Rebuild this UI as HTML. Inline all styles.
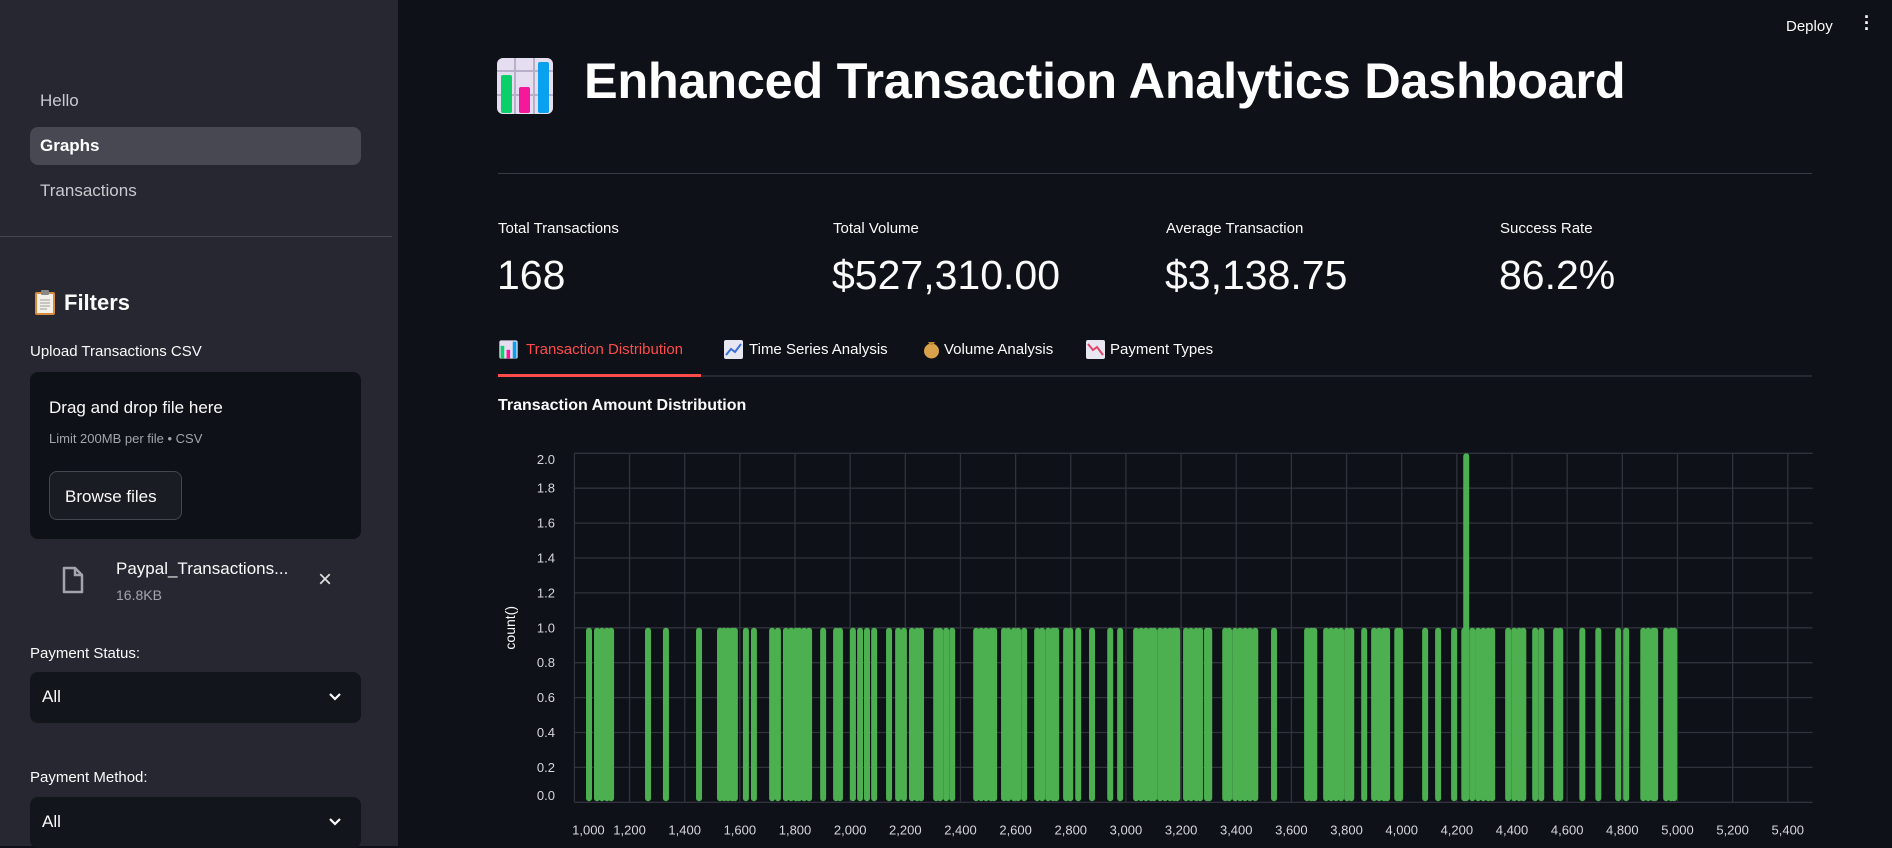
<!DOCTYPE html>
<html><head><meta charset="utf-8">
<style>
*{box-sizing:border-box;margin:0;padding:0}
body{width:1892px;height:846px;overflow:hidden;background:#0e1117;font-family:"Liberation Sans",sans-serif;color:#fafafa;position:relative}
.abs{position:absolute;white-space:nowrap}
#sidebar{position:absolute;left:0;top:0;width:398px;height:846px;background:#262730}
.nav{font-size:17px;color:#c9cad0}
.lbl{font-size:15px;color:#fafafa}
.sel{position:absolute;left:30px;width:331px;height:51px;background:#13151c;border-radius:8px}
.sel span{position:absolute;left:12px;top:15px;font-size:17px}
.mlabel{font-size:15px;color:#fafafa}
.mval{font-size:41px;color:#fafafa}
.tab{font-size:15px;color:#fafafa}
</style></head><body>
<div id="sidebar">
  <div class="abs nav" style="left:40px;top:91px">Hello</div>
  <div class="abs" style="left:30px;top:127px;width:331px;height:38px;background:#474852;border-radius:8px"><span style="position:absolute;left:10px;top:9px;font-size:17px;font-weight:bold;color:#fff">Graphs</span></div>
  <div class="abs nav" style="left:40px;top:181px">Transactions</div>
  <div class="abs" style="left:0;top:236px;width:392px;height:1px;background:#45464f"></div>
  <svg class="abs" style="left:34px;top:290px" width="22" height="26"><rect x="1" y="2" width="20" height="23" rx="2" fill="#d88b3a"/><rect x="3" y="4" width="16" height="19" fill="#f3f0ea"/><rect x="7" y="0" width="8" height="5" rx="1" fill="#888"/><g stroke="#aaa" stroke-width="1.2"><line x1="6" y1="10" x2="16" y2="10"/><line x1="6" y1="13" x2="16" y2="13"/><line x1="6" y1="16" x2="16" y2="16"/><line x1="6" y1="19" x2="13" y2="19"/></g></svg>
  <div class="abs" style="left:64px;top:290px;font-size:22px;font-weight:bold">Filters</div>
  <div class="abs lbl" style="left:30px;top:343px">Upload Transactions CSV</div>
  <div class="abs" style="left:30px;top:372px;width:331px;height:167px;background:#0e1117;border-radius:8px">
    <div class="abs" style="left:19px;top:26px;font-size:17px">Drag and drop file here</div>
    <div class="abs" style="left:19px;top:59px;font-size:13px;color:#a3a5ad">Limit 200MB per file • CSV</div>
    <div class="abs" style="left:19px;top:99px;width:133px;height:49px;border:1px solid #45464f;border-radius:8px;background:#1a1c23"><span style="position:absolute;left:15px;top:15px;font-size:17px">Browse files</span></div>
  </div>
  <svg class="abs" style="left:62px;top:566px" width="22" height="28"><path d="M2 2h11l7 7v17H2z" fill="none" stroke="#a3a5ad" stroke-width="2.5" stroke-linejoin="round"/><path d="M13 2v7h7" fill="none" stroke="#a3a5ad" stroke-width="2.5"/></svg>
  <div class="abs" style="left:116px;top:559px;font-size:17px">Paypal_Transactions...</div>
  <div class="abs" style="left:116px;top:587px;font-size:14px;color:#a3a5ad">16.8KB</div>
  <div class="abs" style="left:318px;top:566px;font-size:24px;color:#e0e0e0">×</div>
  <div class="abs lbl" style="left:30px;top:645px">Payment Status:</div>
  <div class="sel" style="top:672px"><span>All</span><svg style="position:absolute;left:298px;top:20px" width="14" height="10"><path d="M2 2l5 5 5-5" fill="none" stroke="#fafafa" stroke-width="2.2"/></svg></div>
  <div class="abs lbl" style="left:30px;top:769px">Payment Method:</div>
  <div class="sel" style="top:797px"><span>All</span><svg style="position:absolute;left:298px;top:20px" width="14" height="10"><path d="M2 2l5 5 5-5" fill="none" stroke="#fafafa" stroke-width="2.2"/></svg></div>
</div>

<div class="abs" style="left:1786px;top:18px;font-size:15px">Deploy</div>
<div class="abs" style="left:1862px;top:14px;font-size:18px;font-weight:bold;line-height:6px;width:10px;text-align:center">·<br>·<br>·</div>

<svg class="abs" style="left:496px;top:57px" width="58" height="58" viewBox="0 0 58 58"><rect x="1" y="1" width="56" height="56" rx="6" fill="#e4def0"/><g stroke="#b8b0c8" stroke-width="2"><line x1="19" y1="1" x2="19" y2="57"/><line x1="38" y1="1" x2="38" y2="57"/><line x1="1" y1="14" x2="57" y2="14"/><line x1="1" y1="38" x2="57" y2="38"/></g><rect x="5" y="18" width="11" height="38" rx="2" fill="#0bd06a"/><rect x="23" y="30" width="11" height="26" rx="2" fill="#f5189a"/><rect x="42" y="5" width="11" height="51" rx="2" fill="#09a0ef"/></svg>
<div class="abs" style="left:584px;top:51px;font-size:50.5px;font-weight:bold;color:#fff;letter-spacing:-0.3px">Enhanced Transaction Analytics Dashboard</div>
<div class="abs" style="left:498px;top:173px;width:1314px;height:1px;background:#3a3c45"></div>

<div class="abs mlabel" style="left:498px;top:220px">Total Transactions</div>
<div class="abs mval" style="left:497px;top:252px">168</div>
<div class="abs mlabel" style="left:833px;top:220px">Total Volume</div>
<div class="abs mval" style="left:832px;top:252px">$527,310.00</div>
<div class="abs mlabel" style="left:1166px;top:220px">Average Transaction</div>
<div class="abs mval" style="left:1165px;top:252px">$3,138.75</div>
<div class="abs mlabel" style="left:1500px;top:220px">Success Rate</div>
<div class="abs mval" style="left:1499px;top:252px">86.2%</div>

<svg class="abs" style="left:499px;top:340px" width="19" height="19" viewBox="0 0 58 58"><rect x="1" y="1" width="56" height="56" rx="6" fill="#e4def0"/><rect x="5" y="18" width="11" height="38" fill="#0bd06a"/><rect x="23" y="30" width="11" height="26" fill="#f5189a"/><rect x="42" y="5" width="11" height="51" fill="#09a0ef"/></svg>
<div class="abs tab" style="left:526px;top:341px;color:#ff4b4b">Transaction Distribution</div>
<svg class="abs" style="left:724px;top:340px" width="19" height="19"><rect x="0" y="0" width="19" height="19" rx="2" fill="#e8e6f0"/><path d="M2 15l5-6 4 3 6-8" fill="none" stroke="#3a6fd8" stroke-width="2"/></svg>
<div class="abs tab" style="left:749px;top:341px">Time Series Analysis</div>
<svg class="abs" style="left:923px;top:339px" width="17" height="20"><ellipse cx="8.5" cy="12" rx="7.5" ry="7.5" fill="#d9a24a"/><path d="M5 3h7l-2 3H7z" fill="#c58a30"/></svg>
<div class="abs tab" style="left:944px;top:341px">Volume Analysis</div>
<svg class="abs" style="left:1086px;top:340px" width="19" height="19"><rect x="0" y="0" width="19" height="19" rx="2" fill="#e8e6f0"/><path d="M2 4l5 6 4-3 6 8" fill="none" stroke="#e0456a" stroke-width="2"/></svg>
<div class="abs tab" style="left:1110px;top:341px">Payment Types</div>
<div class="abs" style="left:498px;top:375px;width:1314px;height:2px;background:#262730"></div>
<div class="abs" style="left:498px;top:374px;width:203px;height:3px;background:#ff4b4b"></div>
<div class="abs" style="left:498px;top:397px;font-size:16px;font-weight:bold">Transaction Amount Distribution</div>

<svg id="chart" class="abs" style="left:498px;top:430px" width="1394" height="416"></svg>

<script>
const amounts=[1053,1082,1100,1118,1133,1267,1332,1452,1528,1543,1557,1572,1582,1622,1651,1717,1738,1767,1786,1804,1815,1833,1851,1902,1949,1963,2010,2036,2061,2087,2141,2174,2195,2224,2243,2257,2312,2326,2348,2370,2457,2475,2493,2511,2522,2558,2573,2594,2609,2631,2678,2696,2718,2736,2747,2783,2798,2827,2877,2943,2979,3037,3055,3073,3091,3102,3124,3142,3160,3175,3186,3218,3236,3255,3269,3294,3302,3360,3374,3396,3414,3432,3450,3469,3537,3657,3672,3683,3726,3744,3762,3780,3802,3817,3864,3900,3918,3936,3947,3984,3994,4085,4132,4190,4227,4234,4256,4277,4296,4314,4328,4386,4408,4426,4441,4484,4506,4560,4575,4655,4713,4785,4814,4876,4894,4912,4919,4959,4977,4988];
const counts=amounts.map(a=>a===4234?2:1);
const xTicks=[1000,1200,1400,1600,1800,2000,2200,2400,2600,2800,3000,3200,3400,3600,3800,4000,4200,4400,4600,4800,5000,5200,5400];
const yTicks=[0,0.2,0.4,0.6,0.8,1.0,1.2,1.4,1.6,1.8,2.0];
const xDomain=[1000,5490], yDomain=[0,2];

const svg=document.getElementById('chart');
const NS='http://www.w3.org/2000/svg';
const L=76.4,R=1314.6,T=23.3,B=372.3;
const x=v=>L+(v-xDomain[0])/(xDomain[1]-xDomain[0])*(R-L);
const y=v=>B-(v-yDomain[0])/(yDomain[1]-yDomain[0])*(B-T);
function mk(tag,attrs){const e=document.createElementNS(NS,tag);for(const k in attrs)e.setAttribute(k,attrs[k]);svg.appendChild(e);return e;}
const fmt=v=>v.toLocaleString('en-US');
xTicks.forEach(t=>{
  const g=mk('line',{x1:x(t),x2:x(t),y1:T,y2:B,stroke:'#31333c','stroke-width':1.3});
  
  
  let px=x(t); if(t===xDomain[0]) px+=14;
  const tx=mk('text',{x:px,y:B+32,'text-anchor':'middle','font-size':13,fill:'#d5d7dd','font-family':'Liberation Sans, sans-serif'});
  tx.textContent=fmt(t);
  
  
});
yTicks.forEach((t,i)=>{
  const g=mk('line',{x1:L,x2:R,y1:y(t),y2:y(t),stroke:'#31333c','stroke-width':1.3});
  
  
  let py=y(t)+4.5; if(i===0) py-=7; if(i===yTicks.length-1) py+=6;
  const tx=mk('text',{x:57,y:py,'text-anchor':'end','font-size':13,fill:'#d5d7dd','font-family':'Liberation Sans, sans-serif'});
  tx.textContent=t.toFixed(1);
  
  
});
const yt=mk('text',{x:0,y:0,transform:'translate(17,'+((T+B)/2)+') rotate(-90)','text-anchor':'middle','font-size':14,fill:'#fafafa','font-family':'Liberation Sans, sans-serif'});
yt.textContent='count()';


amounts.forEach((a,i)=>{
  const top=y(counts[i]);
  const r=mk('rect',{x:x(a)-3,y:top,width:6,height:B-top-1,rx:3,fill:'#4caf50'});
  
  
});
</script>
</body></html>
